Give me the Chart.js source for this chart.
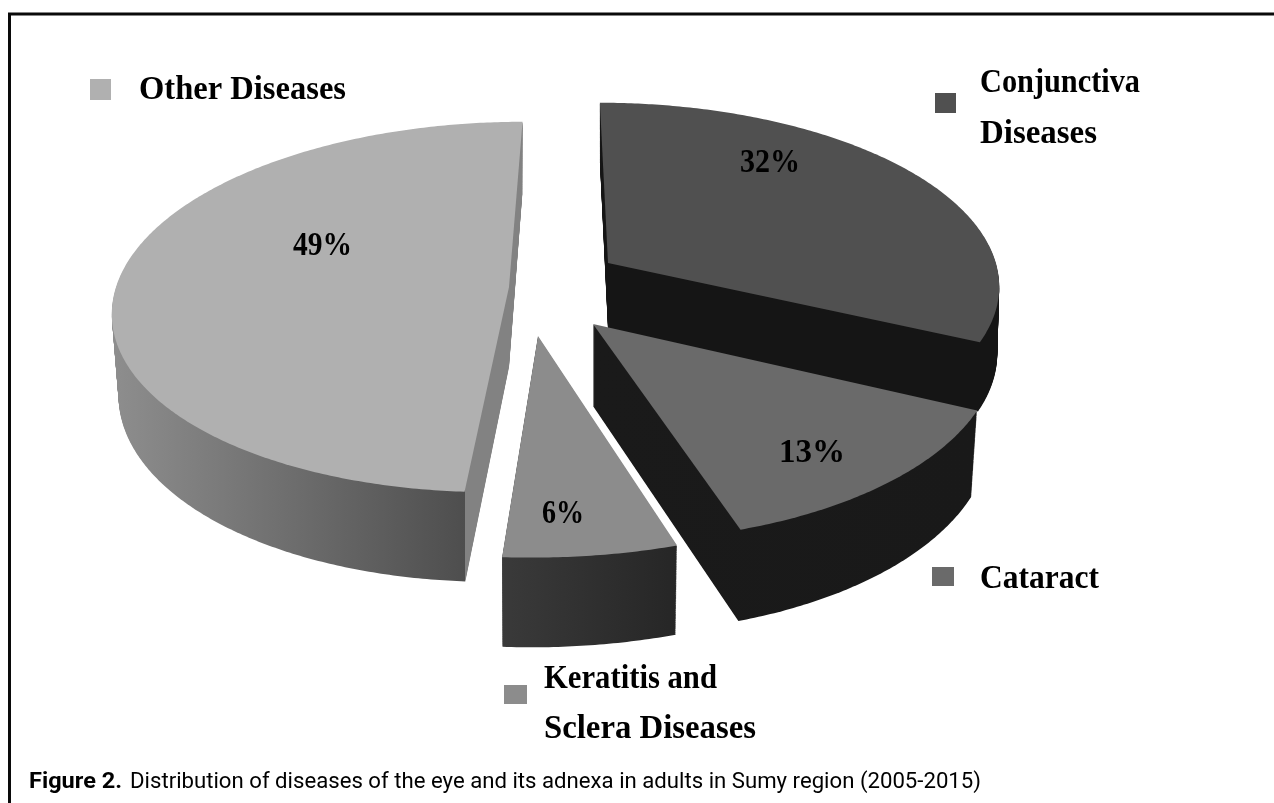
<!DOCTYPE html>
<html>
<head>
<meta charset="utf-8">
<title>Figure 2</title>
<style>
  html, body { margin: 0; padding: 0; background: #fff; overflow: hidden; }
  canvas { display: block; }
</style>
</head>
<body>
<canvas id="pieChart" width="1274" height="803"></canvas>
<script src="https://cdn.jsdelivr.net/npm/chart.js@4"></script>
<script>
const categories = ['Conjunctiva Diseases', 'Cataract', 'Keratitis and Sclera Diseases', 'Other Diseases'];
const shares = [32, 13, 6, 49];
const faceColors = ['#505050', '#6a6a6a', '#8c8c8c', '#b0b0b0'];

// Slices are painted back to front, not in data order
const paintOrder = [3, 0, 1, 2];

// How each slice is pulled out of the disc and how its walls look
const sliceViews = [
    { dx: 48, dy: -57, sx: 0.987, sy: 0.97, skew: 9, depth: 66, taper: 0.995, shade: ['#151515', '#151515'] },
    { dx: 33, dy: 4, sx: 1.02, sy: 1.06, skew: 9, depth: 82, taper: 0.985, shade: ['#1a1a1a', '#191919'] },
    { dx: -22, dy: 16, sx: 1.072, sy: 1.08, skew: -5.6, depth: 80, taper: 0.99, shade: ['#3a3a3a', '#262626'] },
    // the cut face past the front corner is a flat lighter grey
    { dx: -51, dy: -33, sx: 1, sy: 1, skew: -15, depth: 80, taper: 0.983, shade: ['#8e8e8e', '#4e4e4e'], cutFace: '#828282' }
];

const RADIUS_X = 1.228, RADIUS_Y = 0.572, PERSPECTIVE = 0.108;

// Text: x, baseline, drawn width
const serif = 'bold 33px "Liberation Serif"';
const percentLabels = [
    { text: shares[0] + '%', x: 740, y: 172, width: 60 },
    { text: shares[1] + '%', x: 779, y: 462, width: 66 },
    { text: shares[2] + '%', x: 542, y: 523, width: 42 },
    { text: shares[3] + '%', x: 293, y: 255, width: 59 }
];
const legendLabels = [
    { text: 'Conjunctiva', x: 980, y: 92, width: 160 },
    { text: 'Diseases', x: 980, y: 143, width: 117 },
    { text: 'Cataract', x: 980, y: 588, width: 119 },
    { text: 'Keratitis and', x: 544, y: 688, width: 173 },
    { text: 'Sclera Diseases', x: 544, y: 738, width: 212 },
    { text: 'Other Diseases', x: 139, y: 99, width: 207 }
];
const legendSwatches = [
    { x: 935, y: 93, w: 21, h: 20 },
    { x: 932, y: 567, w: 22, h: 19 },
    { x: 504, y: 685, w: 23, h: 19 },
    { x: 90, y: 79, w: 21, h: 21 }
];

function project(arc, view, angle, level) {
    const u = Math.cos(angle), v = Math.sin(angle);
    const w = 1 / (1 - PERSPECTIVE * v);
    const r = arc.outerRadius;
    const t = 1 + (view.taper - 1) * level;
    return {
        x: arc.x + view.dx + (RADIUS_X * view.sx * r * u + view.skew * v) * w * t,
        y: arc.y + view.dy + RADIUS_Y * view.sy * r * v * w + level * view.depth * w
    };
}

function sliceOutline(arc, view, level) {
    const steps = Math.ceil((arc.endAngle - arc.startAngle) / 0.01);
    const pts = [{ x: arc.x + view.dx, y: arc.y + view.dy + level * view.depth }];
    for (let i = 0; i <= steps; i++) {
        pts.push(project(arc, view, arc.startAngle + (arc.endAngle - arc.startAngle) * i / steps, level));
    }
    return pts;
}

function fillPoints(ctx, pts, fill) {
    ctx.beginPath();
    pts.forEach((p, i) => i ? ctx.lineTo(p.x, p.y) : ctx.moveTo(p.x, p.y));
    ctx.closePath();
    ctx.fillStyle = fill;
    ctx.fill();
}

function drawSlice(ctx, arc, view, color) {
    const top = sliceOutline(arc, view, 0);
    const xs = top.map(p => p.x);
    const left = Math.min(...xs), right = Math.max(...xs);

    const grad = ctx.createLinearGradient(left, 0, right, 0);
    grad.addColorStop(0, view.shade[0]);
    if (view.cutFace) {
        // top[1] is the rim point at the slice's start angle
        const stop = (top[1].x - left) / (right - left);
        grad.addColorStop(stop, view.shade[1]);
        grad.addColorStop(stop, view.cutFace);
        grad.addColorStop(1, view.cutFace);
    } else {
        grad.addColorStop(1, view.shade[1]);
    }

    // walls: the outline repeated downwards, bottom layer first
    for (let d = view.depth; d > 0; d--) {
        fillPoints(ctx, sliceOutline(arc, view, d / view.depth), grad);
    }
    fillPoints(ctx, top, color);
}

function fitText(ctx, label, font) {
    ctx.save();
    ctx.font = font;
    ctx.textBaseline = 'alphabetic';
    ctx.fillStyle = '#000';
    const natural = ctx.measureText(label.text).width;
    ctx.translate(label.x, label.y);
    ctx.scale(label.width / natural, 1);
    ctx.fillText(label.text, 0, 0);
    ctx.restore();
}

const tiltedPie = {
    id: 'tiltedPie',
    beforeDatasetDraw(chart, args) {
        const ctx = chart.ctx;
        const arcs = chart.getDatasetMeta(args.index).data;
        paintOrder.forEach(i => drawSlice(ctx, arcs[i], sliceViews[i], arcs[i].options.backgroundColor));
        return false;
    },
    afterDraw(chart) {
        const ctx = chart.ctx;

        // frame
        ctx.strokeStyle = '#0a0a0a';
        ctx.lineWidth = 3;
        ctx.beginPath();
        ctx.moveTo(9.5, 803);
        ctx.lineTo(9.5, 14);
        ctx.lineTo(1274, 14);
        ctx.stroke();

        percentLabels.forEach(l => fitText(ctx, l, serif));
        legendLabels.forEach(l => fitText(ctx, l, serif));
        legendSwatches.forEach((s, i) => {
            ctx.fillStyle = faceColors[i];
            ctx.fillRect(s.x, s.y, s.w, s.h);
        });

        fitText(ctx, { text: 'Figure 2.', x: 29, y: 788, width: 93 }, 'bold 22px Roboto');
        fitText(ctx, { text: 'Distribution of diseases of the eye and its adnexa in adults in Sumy region (2005-2015)', x: 130, y: 788, width: 851 }, '22px Roboto');
    }
};

new Chart(document.getElementById('pieChart'), {
    type: 'pie',
    data: {
        labels: categories,
        datasets: [{ data: shares, backgroundColor: faceColors, borderWidth: 0 }]
    },
    options: {
        responsive: false,
        animation: false,
        layout: { padding: { left: 0, right: 154, top: 0, bottom: 163 } },
        plugins: { legend: { display: false }, tooltip: { enabled: false } }
    },
    plugins: [tiltedPie]
});
</script>
</body>
</html>
